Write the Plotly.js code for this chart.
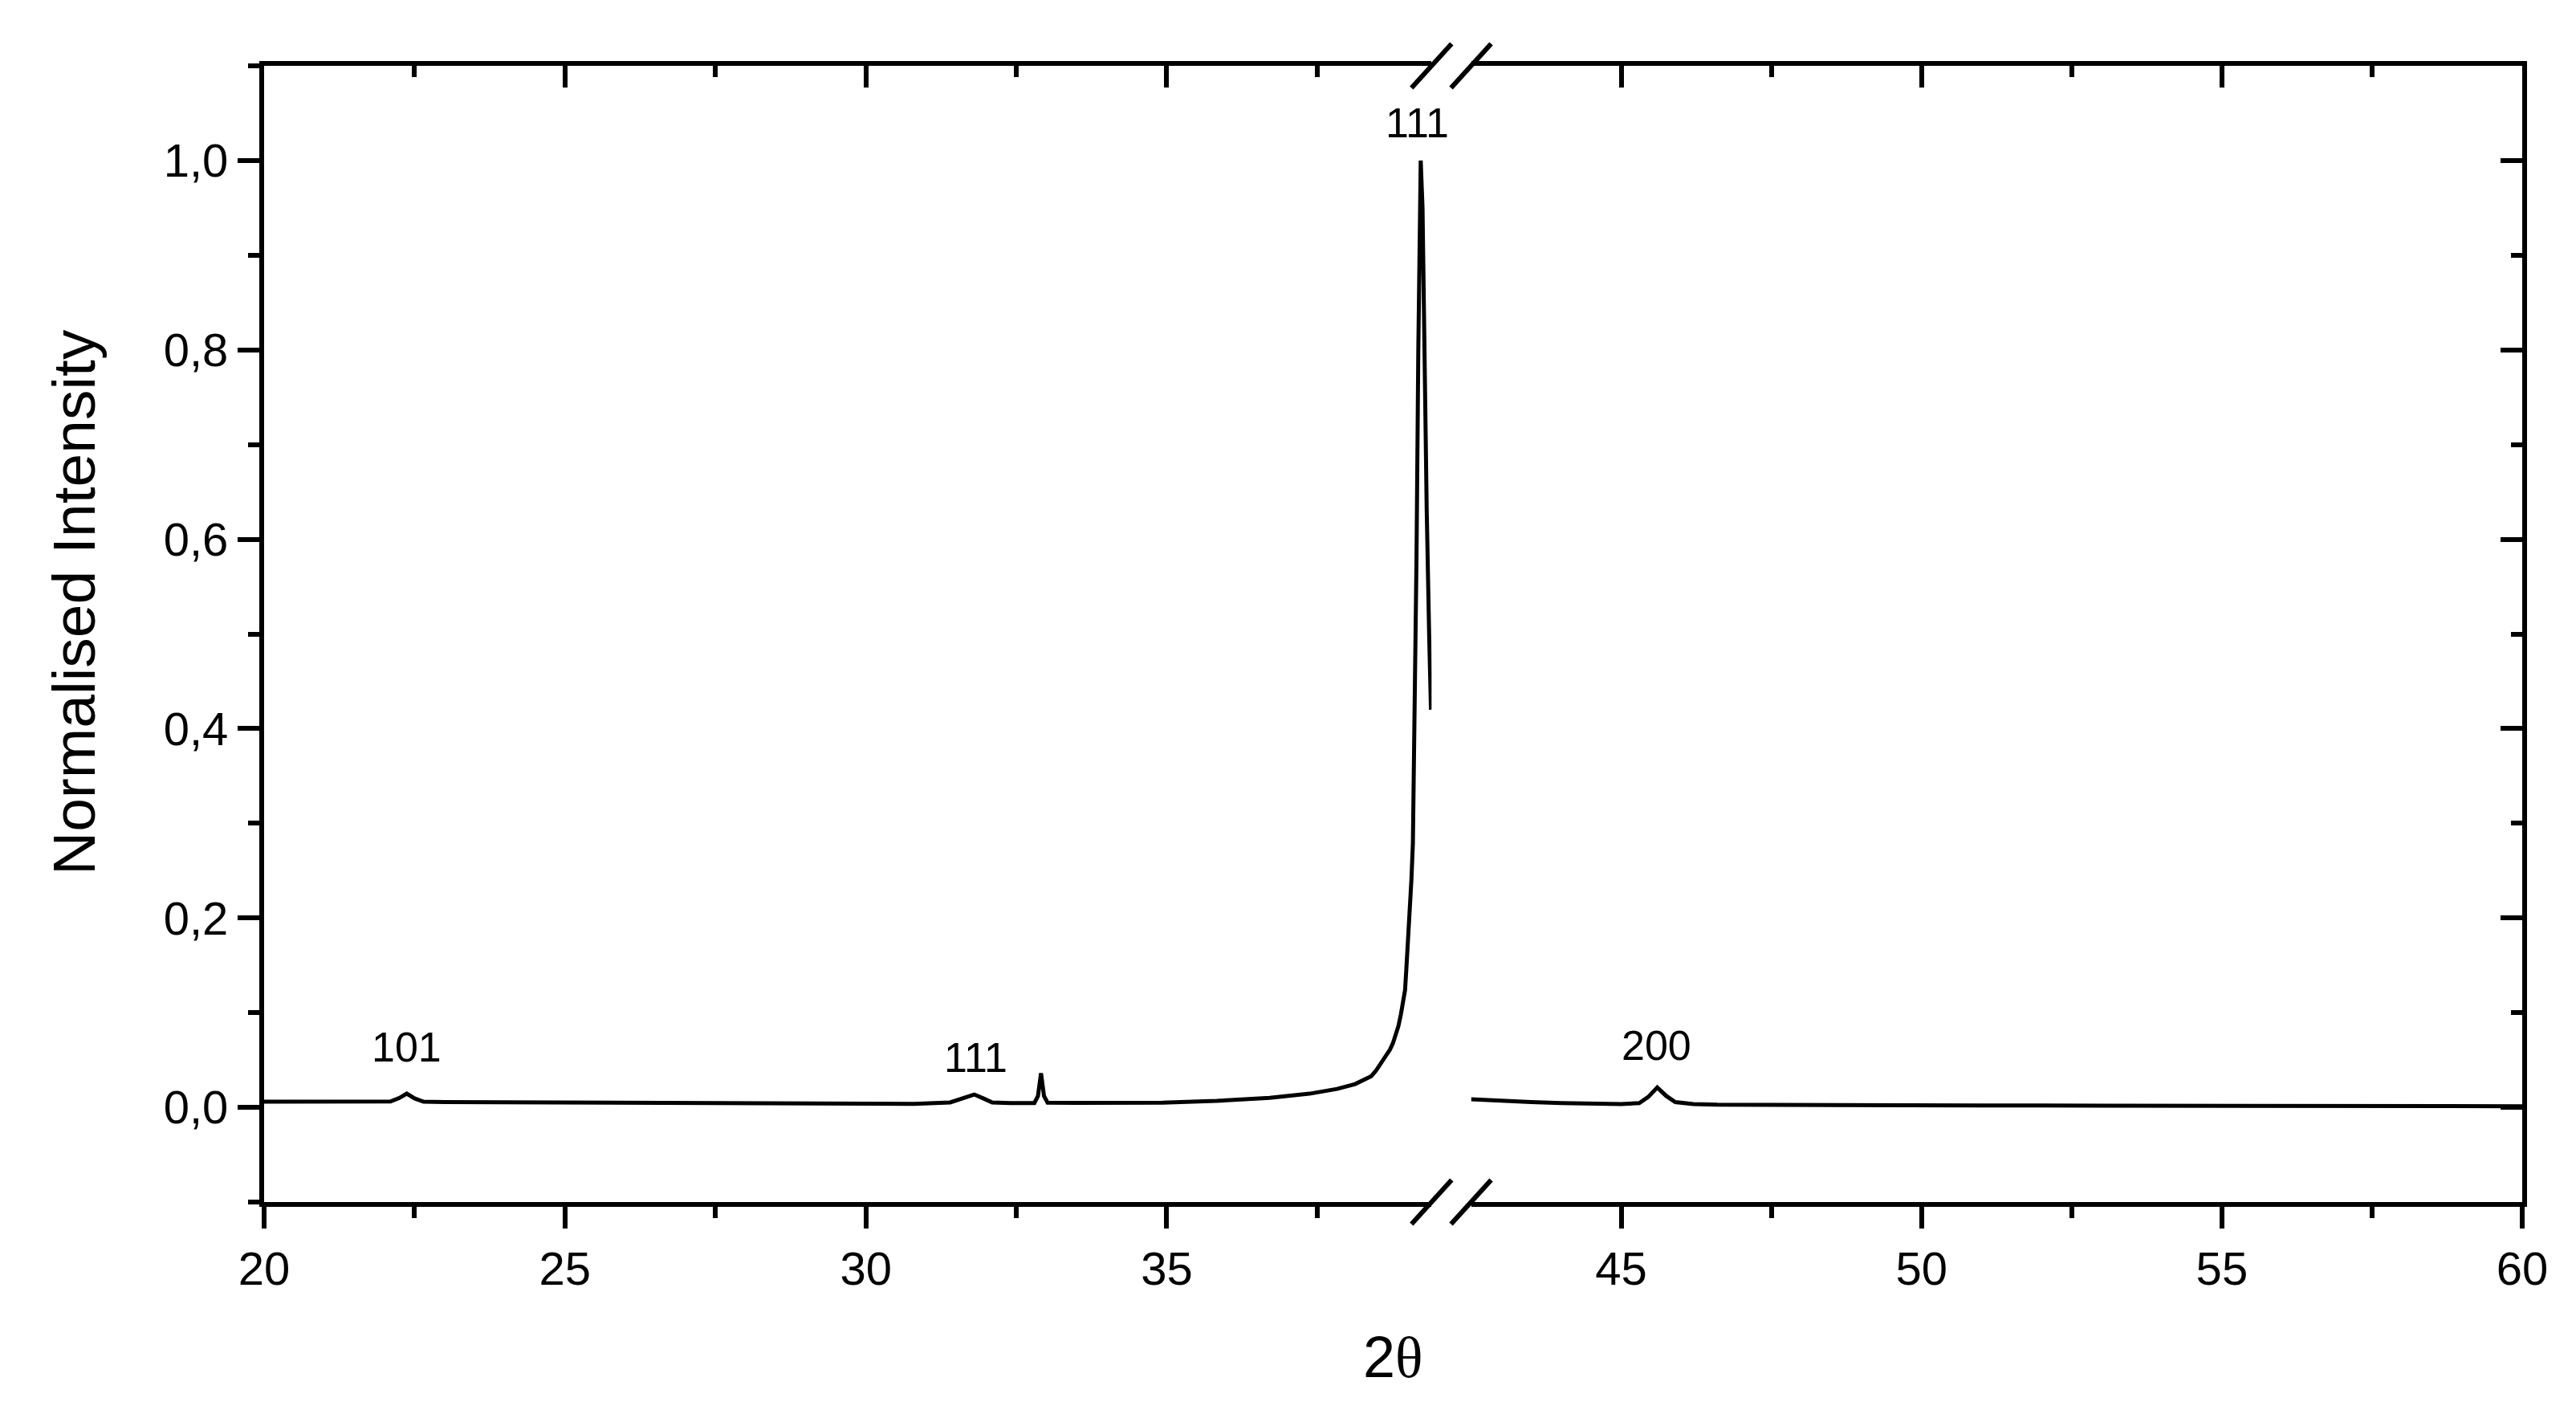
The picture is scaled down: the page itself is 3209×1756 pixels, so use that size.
<!DOCTYPE html>
<html>
<head>
<meta charset="utf-8">
<script src="https://cdn.plot.ly/plotly-3.0.1.min.js"></script>
<style>
  html, body { margin: 0; padding: 0; background: #fff; }
  #chart { width: 3209px; height: 1756px; }
</style>
</head>
<body>
<div id="chart"></div>
<script>
// XRD pattern, 2theta axis broken between ~39.4 and ~42.5
const leftX = [20.0, 21.0, 21.8, 22.1, 22.25, 22.37, 22.5, 22.65, 23.0, 24.0, 25.0, 26.0, 27.0, 28.0,
  29.0, 30.0, 30.8, 31.4, 31.6, 31.8, 31.95, 32.1, 32.4, 32.8, 32.86, 32.91, 32.96, 33.02, 33.5, 34.0,
  34.93, 35.83, 36.71, 37.37, 37.83, 38.13, 38.40, 38.48, 38.57, 38.64, 38.71, 38.76, 38.80, 38.85,
  38.89, 38.93, 38.96, 38.98, 39.00, 39.02, 39.04, 39.065, 39.09, 39.12, 39.15, 39.18, 39.20, 39.22,
  39.25, 39.28, 39.32, 39.36, 39.39];
const leftY = [0.006, 0.0058, 0.0057, 0.0062, 0.010, 0.0145, 0.0095, 0.006, 0.0055, 0.0052, 0.005, 0.0048,
  0.0045, 0.0043, 0.004, 0.0038, 0.0037, 0.0052, 0.009, 0.0136, 0.0095, 0.0052, 0.0045, 0.0046, 0.012,
  0.036, 0.012, 0.005, 0.0047, 0.0048, 0.005, 0.0068, 0.010, 0.0144, 0.0195, 0.0246, 0.033, 0.039,
  0.0475, 0.054, 0.061, 0.068, 0.0755, 0.086, 0.098, 0.11, 0.124, 0.145, 0.166, 0.187, 0.209, 0.24,
  0.279, 0.40, 0.58, 0.80, 0.93, 1.0, 0.95, 0.80, 0.63, 0.50, 0.42];

const rightX = [42.5, 43.0, 43.5, 44.0, 44.5, 45.0, 45.3, 45.45, 45.6, 45.75, 45.9, 46.2, 46.6, 47.5,
  49.0, 51.0, 53.0, 55.0, 57.0, 59.0, 60.0];
const rightY = [0.0085, 0.0068, 0.0055, 0.0045, 0.0038, 0.0034, 0.0045, 0.011, 0.021, 0.012, 0.0055,
  0.0035, 0.0028, 0.0025, 0.0022, 0.002, 0.0018, 0.0016, 0.0015, 0.0013, 0.0012];

const leftRange = [20, 39.4];
const rightRange = [42.5, 60];
const leftTicks = [20, 25, 30, 35];
const leftMinor = [22.5, 27.5, 32.5, 37.5];
const rightTicks = [45, 50, 55, 60];
const rightMinor = [47.5, 52.5, 57.5];
const yTicks = [0, 0.2, 0.4, 0.6, 0.8, 1.0];
const yMinor = [-0.1, 0.1, 0.3, 0.5, 0.7, 0.9, 1.1];

const peakLabels = ['101', '111', '111', '200'];
const peakLabelX = [22.37, 31.82, 39.16, 45.58];
const peakLabelY = [0.064, 0.053, 1.04, 0.065];
const peakLabelAxis = ['x', 'x', 'x', 'x2'];

const FONT = 'Liberation Sans, Arial, sans-serif';
const W = 3209, H = 1756;
const margin = { l: 329, r: 67, t: 82, b: 259 };
const plotW = W - margin.l - margin.r;
const plotH = H - margin.t - margin.b;
const d1 = 0.517, d2 = 0.5345;

const axisBase = {
  showline: true, linecolor: '#000', linewidth: 6,
  showgrid: false, zeroline: false,
  ticks: 'outside', ticklen: 27, tickwidth: 6, tickcolor: '#000',
  tickfont: { family: FONT, size: 58, color: '#000' },
  tickmode: 'array'
};

function minorTicks(vals, dir) {
  return { tickmode: 'array', tickvals: vals, ticks: dir, ticklen: 14, tickwidth: 6, tickcolor: '#000' };
}
function bottomAxis(domain, range, ticks, minor) {
  return Object.assign({}, axisBase, {
    domain: domain, range: range, anchor: 'y',
    tickvals: ticks, minor: minorTicks(minor, 'outside')
  });
}
function topAxis(over, range, ticks, minor) {
  return Object.assign({}, axisBase, {
    overlaying: over, side: 'top', anchor: 'y', range: range,
    ticks: 'inside', tickvals: ticks, showticklabels: false,
    minor: minorTicks(minor, 'inside')
  });
}

const dataLine = { color: '#000', width: 5 };
const traces = [
  { x: leftX, y: leftY, xaxis: 'x', yaxis: 'y', mode: 'lines', line: dataLine, hoverinfo: 'skip' },
  { x: rightX, y: rightY, xaxis: 'x2', yaxis: 'y', mode: 'lines', line: dataLine, hoverinfo: 'skip' },
  // hidden copies so the top and right frame axes get drawn
  { x: leftX, y: leftY, xaxis: 'x3', yaxis: 'y', mode: 'lines', opacity: 0, hoverinfo: 'skip' },
  { x: rightX, y: rightY, xaxis: 'x4', yaxis: 'y2', mode: 'lines', opacity: 0, hoverinfo: 'skip' }
];

// break marks on both x axis lines
const sx = 25 / plotW, sy = 27.5 / plotH;
const shapes = [];
[d1, d2].forEach(function (bx) {
  [0, 1].forEach(function (by) {
    shapes.push({ type: 'line', xref: 'paper', yref: 'paper',
      x0: bx - sx, y0: by - sy, x1: bx + sx, y1: by + sy,
      line: { color: '#000', width: 6 } });
  });
});

const annotations = peakLabels.map(function (t, i) {
  return { text: t, x: peakLabelX[i], y: peakLabelY[i], xref: peakLabelAxis[i], yref: 'y',
    xanchor: 'center', yanchor: 'middle',
    showarrow: false, font: { family: FONT, size: 52, color: '#000' } };
});
annotations.push({
  text: '2<span style="font-family:Liberation Serif">θ</span>',
  xref: 'paper', yref: 'paper', x: 0.5, y: -(1690 - margin.t - plotH) / plotH,
  xanchor: 'center', yanchor: 'middle',
  showarrow: false, font: { family: FONT, size: 72, color: '#000' }
});
annotations.push({
  text: 'Normalised Intensity', textangle: -90,
  xref: 'paper', yref: 'paper', x: (92 - margin.l) / plotW, y: (margin.t + plotH - 750) / plotH,
  xanchor: 'center', yanchor: 'middle',
  showarrow: false, font: { family: FONT, size: 75, color: '#000' }
});

const layout = {
  width: W, height: H,
  margin: margin,
  paper_bgcolor: '#fff', plot_bgcolor: '#fff',
  font: { family: FONT, color: '#000' },
  separators: ',.',
  showlegend: false,
  xaxis: bottomAxis([0, d1], leftRange, leftTicks, leftMinor),
  xaxis2: bottomAxis([d2, 1], rightRange, rightTicks, rightMinor),
  xaxis3: topAxis('x', leftRange, leftTicks, leftMinor),
  xaxis4: topAxis('x2', rightRange, rightTicks, rightMinor),
  yaxis: Object.assign({}, axisBase, {
    range: [-0.1, 1.1], anchor: 'x', tickvals: yTicks, tickformat: '.1f',
    minor: minorTicks(yMinor, 'outside')
  }),
  yaxis2: Object.assign({}, axisBase, {
    overlaying: 'y', side: 'right', anchor: 'x2', range: [-0.1, 1.1],
    ticks: 'inside', tickvals: yTicks, showticklabels: false,
    minor: minorTicks(yMinor, 'inside')
  }),
  shapes: shapes,
  annotations: annotations
};

Plotly.newPlot('chart', traces, layout, { displayModeBar: false, staticPlot: true });
</script>
</body>
</html>
